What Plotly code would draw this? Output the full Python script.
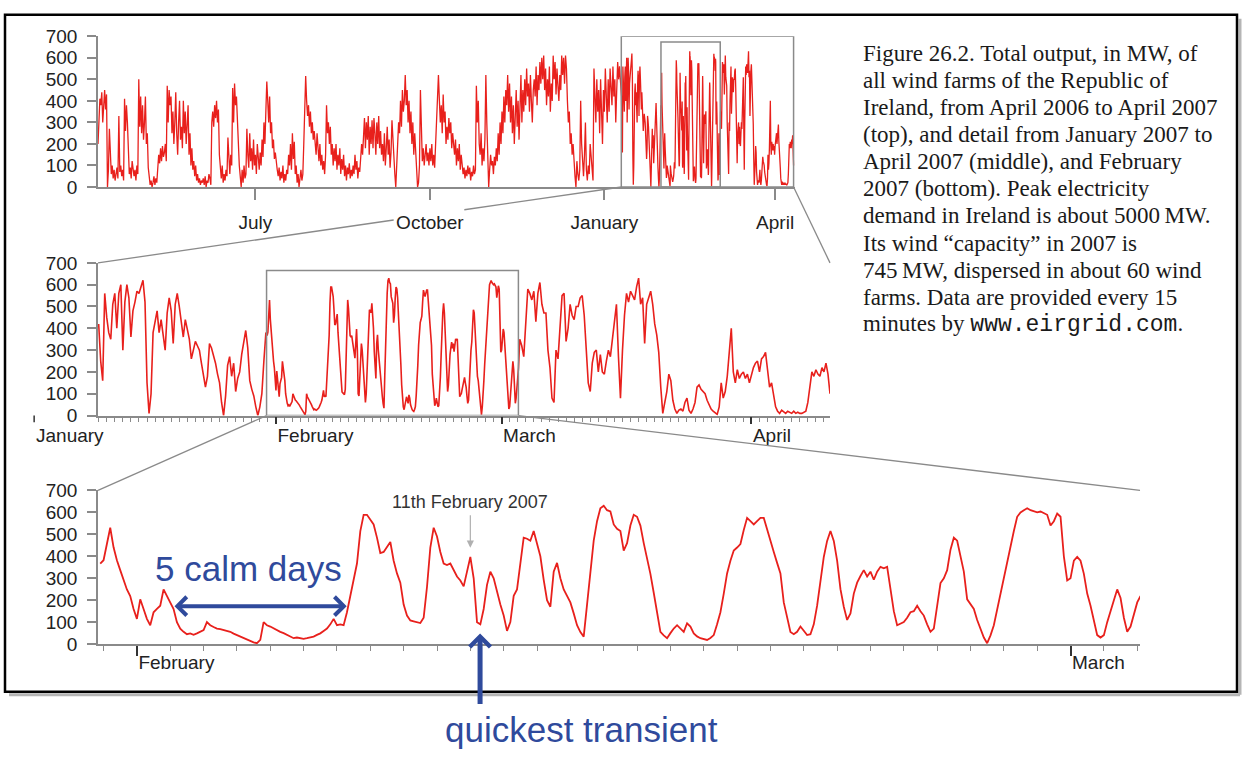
import pandas as pd
import plotly.graph_objects as go

# ---------------- data (MW) ----------------
# Apr 2006 - Jan 2007, one reading per 12 h (top panel)
mw_2006 = [
    200, 320, 410, 380, 440, 300, 420, 450, 360, 430,
    0, 80, 270, 150, 60, 100, 40, 80, 30, 60,
    90, 40, 330, 70, 100, 50, 80, 30, 410, 260,
    380, 300, 150, 60, 90, 40, 120, 70, 50, 80,
    30, 100, 60, 500, 280, 420, 250, 380, 220, 300,
    420, 200, 250, 90, 40, 10, 30, 0, 20, 50,
    10, 40, 20, 80, 150, 110, 180, 120, 190, 140,
    160, 200, 120, 470, 300, 450, 380, 420, 250, 350,
    200, 300, 440, 250, 150, 300, 400, 220, 280, 180,
    400, 250, 350, 200, 300, 380, 150, 250, 100, 180,
    80, 120, 50, 100, 30, 60, 20, 40, 10, 30,
    20, 40, 10, 50, 0, 30, 20, 60, 40, 10,
    300, 350, 280, 380, 320, 400, 300, 360, 150, 80,
    40, 100, 20, 60, 30, 80, 50, 230, 120, 60,
    150, 100, 460, 300, 480, 380, 420, 300, 200, 100,
    50, 0, 80, 20, 100, 40, 60, 270, 150, 90,
    250, 120, 180, 80, 220, 100, 150, 60, 200, 120,
    80, 160, 100, 220, 140, 300, 200, 350, 490, 400,
    300, 420, 250, 300, 180, 220, 130, 160, 100, 80,
    50, 90, 30, 70, 40, 100, 20, 60, 30, 80,
    60, 150, 100, 200, 80, 250, 130, 210, 60, 100,
    20, 60, 0, 40, 80, 30, 60, 200, 380, 515,
    400, 330, 380, 280, 350, 250, 300, 220, 260, 200,
    150, 250, 180, 120, 200, 100, 150, 80, 120, 60,
    150, 380, 250, 300, 200, 280, 150, 200, 100, 180,
    120, 200, 80, 150, 100, 180, 60, 130, 80, 150,
    50, 100, 30, 90, 60, 110, 40, 80, 50, 100,
    60, 150, 80, 120, 40, 90, 70, 160, 200, 150,
    250, 320, 180, 300, 220, 330, 150, 280, 200, 310,
    180, 320, 250, 150, 300, 200, 330, 180, 260, 150,
    200, 120, 250, 100, 180, 280, 150, 220, 90, 160,
    310, 200, 120, 60, 0, 80, 200, 300, 250, 400,
    280, 450, 350, 400, 520, 380, 450, 300, 400, 250,
    350, 200, 300, 150, 250, 180, 60, 0, 20, 100,
    450, 200, 120, 180, 100, 150, 200, 120, 160, 100,
    180, 120, 200, 100, 150, 90, 180, 300, 420, 520,
    400, 300, 380, 250, 430, 300, 350, 200, 280, 220,
    320, 250, 300, 180, 250, 200, 150, 220, 100, 180,
    120, 200, 80, 150, 100, 60, 90, 40, 80, 50,
    100, 60, 90, 30, 70, 50, 100, 60, 80, 470,
    300, 400, 200, 150, 250, 100, 180, 120, 220, 520,
    300, 100, 0, 80, 150, 100, 120, 60, 140, 100,
    180, 120, 250, 150, 300, 200, 350, 250, 420, 300,
    450, 380, 520, 350, 480, 300, 420, 250, 380, 200,
    350, 450, 280, 400, 220, 380, 520, 300, 450, 350,
    500, 380, 550, 420, 480, 350, 520, 400, 300, 450,
    500, 420, 560, 380, 520, 450, 580, 480, 600, 500,
    610, 450, 550, 380, 500, 420, 560, 350, 480, 400,
    610, 500, 580, 430, 550, 470, 400, 520, 450, 610,
    520, 600, 480, 610, 550, 400, 300, 350, 200, 250,
    150, 200, 100, 50, 0, 120, 60, 30, 80, 400,
    200, 100, 50, 150, 300, 80, 30, 100, 60, 200,
    150, 100, 30, 550, 400, 300, 500, 350, 450, 250,
    500, 300, 200, 450, 350, 550, 400, 300, 500, 350,
    550, 450, 380, 560, 420, 500, 300, 450, 580, 500, 560,
]
# Jan 10 - Jan 30 2007, one reading per 6 h (middle panel)
mw_jan = [
    420, 250, 160, 560, 450, 380, 350, 510, 560, 400,
    560, 600, 300, 520, 600, 540, 360, 480, 520, 570,
    560, 590, 620, 520, 150, 10, 100, 380, 440, 480,
    380, 440, 370, 300, 470, 540, 480, 330, 510, 560,
    500, 420, 360, 440, 400, 350, 260, 300, 340, 320,
    300, 240, 190, 130, 180, 330, 310, 280, 240, 190,
    150, 60, 0, 90, 230, 270, 180, 240, 110, 170,
    200, 280, 340, 390, 310, 160, 120, 90, 40, 0,
    40, 100, 250, 380,
]
# Jan 30 21:36 - Mar 3 2007, one reading per 2.4 h (bottom panel)
mw_feb = [
    367, 382, 456, 530, 441, 382, 337, 293, 249, 219,
    160, 115, 204, 160, 115, 86, 145, 160, 175, 249,
    219, 190, 160, 100, 70, 56, 45, 49, 42, 49,
    55, 64, 100, 86, 78, 71, 68, 64, 58, 56,
    48, 41, 35, 27, 20, 12, 8, 4, 19, 100,
    86, 80, 71, 62, 56, 50, 41, 35, 27, 30,
    27, 24, 27, 30, 34, 42, 49, 60, 71, 90,
    115, 86, 90, 86, 145, 219, 293, 367, 515, 589,
    589, 567, 545, 485,
    415, 420, 440, 465, 380, 322, 280,
    180, 130, 108, 104, 100, 96, 120, 260, 440, 530,
    490, 420, 367, 360, 367, 340, 308, 290, 263, 330,
    397, 300, 100, 90, 160, 270, 330, 300, 234, 180,
    130, 60, 100, 220, 249, 380, 485, 480, 471, 515,
    460, 400, 293, 200, 170, 330, 370, 300, 249, 220,
    190, 140, 86, 55, 34, 180, 330, 471, 560, 619,
    630, 610, 604, 545, 525, 515, 426, 460, 540, 589,
    580, 540, 460, 397, 320, 234, 140, 56, 40, 27,
    50, 71, 86, 70, 56, 95, 80, 49, 35, 27,
    22, 19, 28, 41, 90, 145, 230, 322, 380, 426,
    440, 456, 520, 575, 560, 545, 560, 575, 575, 520,
    471, 420, 370, 322,
    190, 120, 55, 45, 56, 80, 60, 41, 45, 90,
    175, 280, 397, 470, 515, 470, 380, 250, 170, 110,
    140, 230, 280, 310, 337, 308, 330, 293, 330, 352,
    345, 352, 260, 150, 86, 95, 100, 120, 145, 150,
    175, 150, 130, 90, 56, 71, 180, 278, 300, 337,
    430, 485, 471, 400, 330, 204, 180, 160, 110, 71,
    30, 4, 40, 86, 160, 234, 300, 382, 450, 515,
    580, 600, 610, 619, 610, 604, 600, 604, 595, 589,
    540, 560, 595, 580, 400, 290, 300, 380, 397, 380,
    320, 230, 175, 100, 41, 30, 41, 100, 145, 200,
    249, 210, 120, 56, 80, 130, 190, 219,
]
# Mar 3 - Apr 10 2007, one reading per 6 h (middle panel)
mw_mar = [
    350, 320, 270, 450, 580, 560, 530, 570, 430, 560,
    610, 510, 470, 470, 300, 220, 80, 60, 300, 260,
    400, 550, 560, 340, 400, 510, 460, 440, 500, 500,
    540, 550, 460, 320, 150, 110, 240, 290, 300, 200,
    280, 200, 190, 250, 300, 270, 350, 440, 510, 270,
    80, 300, 460, 560, 520, 570, 550, 530, 590, 630,
    510, 540, 330, 510, 540, 570, 510, 420, 370, 290,
    130, 10, 60, 110, 190, 160, 70, 30, 10, 25,
    30, 20, 60, 80, 25, 10, 30, 60, 130, 140,
    120, 110, 100, 70, 50, 30, 20, 10, 5, 40,
    150, 80, 110, 180, 290, 400, 200, 150, 210, 170,
    190, 200, 170, 190, 150, 190, 220, 240, 250, 200,
    260, 270, 290, 210, 130, 150, 90, 40, 20, 10,
    25, 15, 10, 20, 15, 10, 20, 10, 15, 10,
    10, 15, 20, 60, 120, 200, 180, 210, 190, 180,
    220, 200, 240, 190, 100,
]

t_2006 = pd.date_range("2006-04-09 00:00", periods=len(mw_2006), freq="12h")
t_jan = pd.date_range("2007-01-10 00:00", periods=len(mw_jan), freq="6h")
t_feb = pd.date_range("2007-01-30 21:36", periods=len(mw_feb), freq="144min")
t_mar = pd.date_range("2007-03-03 06:00", periods=len(mw_mar), freq="6h")

y_ticks = [0, 100, 200, 300, 400, 500, 600, 700]

top_range = ["2006-04-09 00:00", "2007-04-11 12:00"]
mid_range = ["2007-01-09 22:00", "2007-04-10 18:00"]
bot_range = ["2007-01-30 20:00", "2007-03-03 02:00"]

caption_lines = [
    "Figure 26.2. Total output, in MW, of",
    "all wind farms of the Republic of",
    "Ireland, from April 2006 to April 2007",
    "(top), and detail from January 2007 to",
    "April 2007 (middle), and February",
    "2007 (bottom). Peak electricity",
    "demand in Ireland is about 5000\u2009MW.",
    "Its wind \u201ccapacity\u201d in 2007 is",
    "745\u2009MW, dispersed in about 60 wind",
    "farms. Data are provided every 15",
    "minutes by <span style='font-family:\"Liberation Mono\", monospace'>www.eirgrid.com</span>.",
]

# ---------------- layout geometry ----------------
W, H = 1243, 765


def px(x):
    return x / W


def py(y):
    return 1 - y / H


top_xdom, top_ydom = [px(98), px(795)], [py(182), py(27)]
mid_xdom, mid_ydom = [px(98), px(830)], [py(417), py(260)]
bot_xdom, bot_ydom = [px(98), px(1140)], [py(652), py(494)]


def x_paper(d, rng, dom):
    a, b = pd.Timestamp(rng[0]), pd.Timestamp(rng[1])
    f = (pd.Timestamp(d) - a) / (b - a)
    return dom[0] + f * (dom[1] - dom[0])


RED = "#e8201c"
AX = "#8a8a8a"
TXT = "#222222"
BLUE = "#2f4a9c"
SANS = "Liberation Sans, Arial, sans-serif"
SERIF = "Liberation Serif, Times New Roman, serif"

fig = go.Figure()
fig.add_trace(go.Scatter(
    x=list(t_2006) + list(t_jan) + list(t_feb) + list(t_mar),
    y=mw_2006 + mw_jan + mw_feb + mw_mar,
    mode="lines", line=dict(color=RED, width=1.3), xaxis="x", yaxis="y",
    showlegend=False, hoverinfo="skip"))
fig.add_trace(go.Scatter(
    x=list(t_jan) + list(t_feb) + list(t_mar),
    y=mw_jan + mw_feb + mw_mar,
    mode="lines", line=dict(color=RED, width=1.6), xaxis="x2", yaxis="y2",
    showlegend=False, hoverinfo="skip"))
fig.add_trace(go.Scatter(
    x=list(t_feb), y=mw_feb,
    mode="lines", line=dict(color=RED, width=1.8), xaxis="x3", yaxis="y3",
    showlegend=False, hoverinfo="skip"))

tickfont = dict(family=SANS, size=19, color=TXT)


def yax(dom, anchor):
    return dict(domain=dom, range=[0, 700], tickvals=y_ticks, ticks="outside",
                ticklen=9, tickwidth=1.5, tickcolor=AX, showline=True,
                linecolor=AX, linewidth=1.5, showgrid=False, zeroline=False,
                tickfont=tickfont, anchor=anchor, fixedrange=True,
                ticklabelstandoff=6)


fig.update_layout(
    width=W, height=H, margin=dict(l=0, r=0, t=0, b=0),
    paper_bgcolor="white", plot_bgcolor="white",
    xaxis=dict(domain=top_xdom, range=top_range, type="date", anchor="y",
               dtick="M3", tick0="2006-07-01", tickformat="%B",
               ticks="outside", ticklen=11, tickwidth=1.5, tickcolor=AX,
               showline=True, linecolor=AX, linewidth=1.5, showgrid=False,
               zeroline=False, tickfont=tickfont, ticklabelstandoff=6),
    yaxis=yax(top_ydom, "x"),
    xaxis2=dict(domain=mid_xdom, range=mid_range, type="date", anchor="y2",
                dtick="M1", tick0="2007-01-01", tickformat="%B",
                ticks="outside", ticklen=7, tickwidth=1.5, tickcolor="#333",
                minor=dict(dtick=86400000, tick0="2007-01-01", ticks="outside",
                           ticklen=5, tickcolor=AX, tickwidth=1, showgrid=False),
                ticklabelposition="outside right",
                showline=True, linecolor=AX, linewidth=1.5, showgrid=False,
                zeroline=False, tickfont=tickfont, ticklabelstandoff=2),
    yaxis2=yax(mid_ydom, "x2"),
    xaxis3=dict(domain=bot_xdom, range=bot_range, type="date", anchor="y3",
                dtick="M1", tick0="2007-01-01", tickformat="%B",
                ticks="outside", ticklen=10, tickwidth=1.5, tickcolor="#333",
                minor=dict(dtick=86400000, tick0="2007-01-01", ticks="outside",
                           ticklen=5, tickcolor=AX, tickwidth=1, showgrid=False),
                ticklabelposition="outside right",
                showline=True, linecolor=AX, linewidth=1.5, showgrid=False,
                zeroline=False, tickfont=tickfont, ticklabelstandoff=0),
    yaxis3=yax(bot_ydom, "x3"),
)

shapes = []
GREY = dict(color=AX, width=1.5)
# zoom boxes
shapes.append(dict(type="rect", xref="x", yref="y", x0=mid_range[0], x1=mid_range[1],
                   y0=0, y1=700, line=GREY))
shapes.append(dict(type="rect", xref="x", yref="y", x0=bot_range[0], x1=bot_range[1],
                   y0=0, y1=673, line=GREY))
shapes.append(dict(type="rect", xref="x2", yref="y2", x0=bot_range[0], x1=bot_range[1],
                   y0=0, y1=665, line=GREY))

# connectors
def seg(p0, p1, t0=0.0, t1=1.0):
    (xa, ya), (xb, yb) = p0, p1
    return dict(type="line", xref="paper", yref="paper",
                x0=xa + (xb - xa) * t0, y0=ya + (yb - ya) * t0,
                x1=xa + (xb - xa) * t1, y1=ya + (yb - ya) * t1,
                line=dict(color=AX, width=1.3))

pA = (mid_xdom[0], mid_ydom[1])
pB = (x_paper(mid_range[0], top_range, top_xdom), top_ydom[0])
shapes.append(seg(pA, pB, 0.0, 0.565))
shapes.append(seg(pA, pB, 0.70, 1.0))
shapes.append(seg((x_paper(mid_range[1], top_range, top_xdom), top_ydom[0]),
                  (mid_xdom[1], mid_ydom[1])))
shapes.append(seg((x_paper(bot_range[0], mid_range, mid_xdom), mid_ydom[0]),
                  (bot_xdom[0], bot_ydom[1])))
shapes.append(seg((x_paper(bot_range[1], mid_range, mid_xdom), mid_ydom[0]),
                  (bot_xdom[1], bot_ydom[1])))

# January tick of the middle panel (left of its axis)
jan_x = x_paper("2007-01-01", mid_range, mid_xdom) + px(8)
shapes.append(dict(type="line", xref="paper", yref="paper", x0=jan_x, x1=jan_x,
                   y0=py(417), y1=py(424), line=dict(color="#333", width=1.5)))

# frame with shadow
shapes.append(dict(type="line", xref="paper", yref="paper", x0=px(9), x1=px(1240),
                   y0=py(704), y1=py(704), line=dict(color="#b5b5b5", width=3)))
shapes.append(dict(type="line", xref="paper", yref="paper", x0=px(1240), x1=px(1240),
                   y0=py(9), y1=py(704), line=dict(color="#b5b5b5", width=3)))
shapes.append(dict(type="rect", xref="paper", yref="paper", x0=px(5), x1=px(1237),
                   y0=py(701), y1=py(5), line=dict(color="black", width=2.5)))
fig.update_layout(shapes=shapes)

ann = []
ann.append(dict(xref="paper", yref="paper", x=jan_x, y=py(437), xanchor="left",
                yanchor="middle", text="January", showarrow=False, font=tickfont))
# caption
for k, line in enumerate(caption_lines):
    ann.append(dict(xref="paper", yref="paper", x=px(861), y=py(45 + k * 27.8),
                    xanchor="left", yanchor="middle", text=line, showarrow=False,
                    font=dict(family=SERIF, size=23, color="#1a1a1a")))
# 11th February
feb11 = x_paper("2007-02-11 00:00", bot_range, bot_xdom)
ann.append(dict(xref="paper", yref="paper", x=feb11, y=py(506), xanchor="center",
                yanchor="middle", text="11th February 2007", showarrow=False,
                font=dict(family=SANS, size=18, color="#333")))
ann.append(dict(xref="paper", yref="paper", x=feb11, y=py(553), ax=0, ay=-34,
                text="", showarrow=True, arrowhead=2, arrowsize=1.2, arrowwidth=1.2,
                arrowcolor="#b0b0b0"))
# 5 calm days
calm0 = x_paper("2007-02-02 02:00", bot_range, bot_xdom)
calm1 = x_paper("2007-02-07 07:00", bot_range, bot_xdom)
ann.append(dict(xref="paper", yref="paper", x=(calm0 + calm1) / 2 - px(11), y=py(574),
                xanchor="center", yanchor="middle", text="5 calm days",
                showarrow=False, font=dict(family=SANS, size=35, color=BLUE)))
ann.append(dict(xref="paper", yref="paper", x=calm1, y=py(613),
                ax=-(calm1 - calm0) * W, ay=0, text="", showarrow=True,
                arrowhead=4, startarrowhead=4, arrowside="end+start",
                arrowsize=0.9, startarrowsize=0.9, arrowwidth=4, arrowcolor=BLUE))
# quickest transient
qt = x_paper("2007-02-11 07:00", bot_range, bot_xdom)
ann.append(dict(xref="paper", yref="paper", x=qt, y=py(641), ax=0, ay=72,
                text="", showarrow=True, arrowhead=4, arrowsize=0.8, arrowwidth=5,
                arrowcolor=BLUE))
ann.append(dict(xref="paper", yref="paper", x=px(581), y=py(740), xanchor="center",
                yanchor="middle", text="quickest transient", showarrow=False,
                font=dict(family=SANS, size=35, color=BLUE)))
fig.update_layout(annotations=ann)

fig.write_html("out.html", post_script="document.body.style.margin='0';",
               config={"displayModeBar": False})
